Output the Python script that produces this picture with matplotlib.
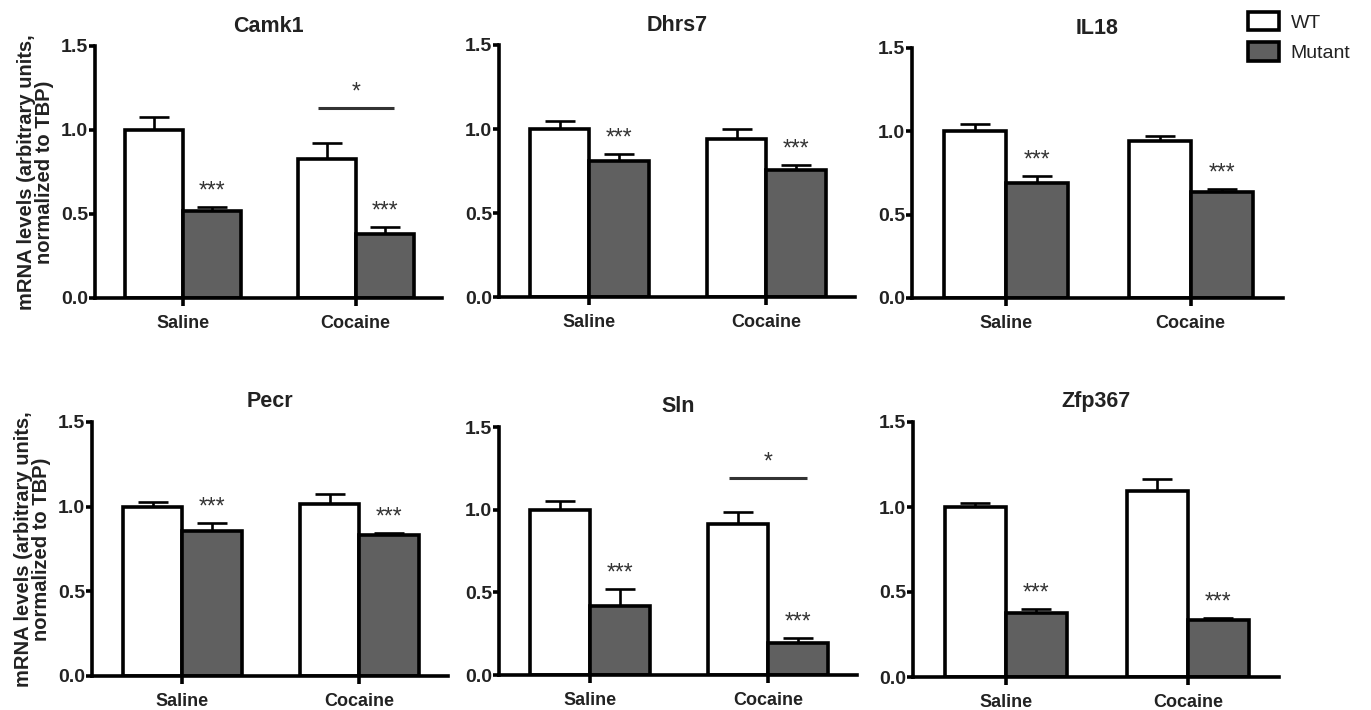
import matplotlib
matplotlib.use("Agg")
import matplotlib.pyplot as plt
from matplotlib.patches import Patch
from matplotlib.ticker import FormatStrFormatter

plt.rcParams['font.family'] = ['Liberation Sans', 'DejaVu Sans']

# ---- data ----
genes = ['Camk1', 'Dhrs7', 'IL18', 'Pecr', 'Sln', 'Zfp367']
groups = ['Saline', 'Cocaine']
wt_mean = [[1.00, 0.83], [1.00, 0.94], [1.00, 0.94], [1.00, 1.015], [1.00, 0.915], [1.00, 1.095]]
wt_err = [[0.08, 0.09], [0.045, 0.06], [0.046, 0.032], [0.026, 0.058], [0.05, 0.07], [0.025, 0.072]]
mut_mean = [[0.515, 0.38], [0.81, 0.755], [0.69, 0.637], [0.855, 0.835], [0.42, 0.195], [0.377, 0.337]]
mut_err = [[0.025, 0.04], [0.042, 0.032], [0.04, 0.017], [0.046, 0.011], [0.10, 0.028], [0.021, 0.01]]
mut_sig = [['***', '***']] * 6
# between-treatment significance bars: gene index -> (group index, height, label)
bracket = {0: (1, 1.13, '*'), 4: (1, 1.19, '*')}
yticks = [0.0, 0.5, 1.0, 1.5]
ylabel = 'mRNA levels (arbitrary units,\nnormalized to TBP)'

# ---- layout (pixels: left, right, top, bottom) ----
W, H = 1371, 710
boxes = [(95, 442, 46, 298), (499, 855, 45, 297), (912, 1283, 48, 298),
         (92, 448, 422, 676), (499, 857, 427, 675), (913, 1279, 422, 677)]

fig = plt.figure(figsize=(W / 100, H / 100), dpi=100)
txt = '#222222'
lw = 2.6
elw = 1.9
bw = 0.335
MUT = '#606060'

for i, g in enumerate(genes):
    l, r, t, b = boxes[i]
    ax = fig.add_axes([l / W, 1 - b / H, (r - l) / W, (b - t) / H])
    xs = list(range(len(groups)))
    xw = [x - bw / 2 for x in xs]
    xm = [x + bw / 2 for x in xs]
    ax.errorbar(xw, wt_mean[i], yerr=[[0, 0], wt_err[i]], fmt='none', ecolor='black',
                elinewidth=elw, capsize=11, capthick=elw, zorder=1, clip_on=False)
    ax.errorbar(xm, mut_mean[i], yerr=[[0, 0], mut_err[i]], fmt='none', ecolor='black',
                elinewidth=elw, capsize=11, capthick=elw, zorder=1, clip_on=False)
    ax.bar(xw, wt_mean[i], width=bw, color='white', edgecolor='black', linewidth=lw, zorder=2)
    ax.bar(xm, mut_mean[i], width=bw, color=MUT, edgecolor='black', linewidth=lw, zorder=2)
    for j in xs:
        top = mut_mean[i][j] + mut_err[i][j]
        ax.annotate(mut_sig[i][j], (xm[j], top), xytext=(0, 7), textcoords='offset points',
                    ha='center', va='baseline', fontsize=16.5, color='#333333')
    if i in bracket:
        gi, h, lab = bracket[i]
        ax.plot([gi - 0.22, gi + 0.22], [h, h], color='#333333', lw=2.2, solid_capstyle='butt')
        ax.annotate(lab, (gi, h), xytext=(0, 7), textcoords='offset points',
                    ha='center', va='baseline', fontsize=16.5, color='#333333')

    ax.set_xlim(-0.51, 1.5)
    ax.set_ylim(0, 1.5)
    ax.set_yticks(yticks)
    ax.yaxis.set_major_formatter(FormatStrFormatter('%.1f'))
    ax.set_xticks(xs)
    ax.set_xticklabels(groups)
    for s in ['top', 'right']:
        ax.spines[s].set_visible(False)
    for s in ['left', 'bottom']:
        ax.spines[s].set_linewidth(lw)
    ax.tick_params(axis='y', length=4, width=lw, labelsize=14, colors='black', labelcolor=txt, pad=1)
    ax.tick_params(axis='x', length=6, width=lw, labelsize=13, colors='black', labelcolor=txt, pad=6)
    for lab in ax.get_xticklabels() + ax.get_yticklabels():
        lab.set_fontweight('bold')
    ax.set_title(g, fontsize=15.5, fontweight='bold', color=txt, pad=10 if i < 3 else 11)
    if i % 3 == 0:
        ax.set_ylabel(ylabel, fontsize=14.5, fontweight='bold', color=txt, linespacing=0.95, labelpad=5)

handles = [Patch(facecolor='white', edgecolor='black', linewidth=lw, label='WT'),
           Patch(facecolor=MUT, edgecolor='black', linewidth=lw, label='Mutant')]
fig.legend(handles=handles, loc='upper left', bbox_to_anchor=(1240 / W, 1 - 4 / H),
           frameon=False, fontsize=14, handlelength=1.6, handleheight=1.1,
           labelspacing=0.55, handletextpad=0.6, borderaxespad=0, labelcolor=txt)

fig.savefig('out.png', dpi=100)
